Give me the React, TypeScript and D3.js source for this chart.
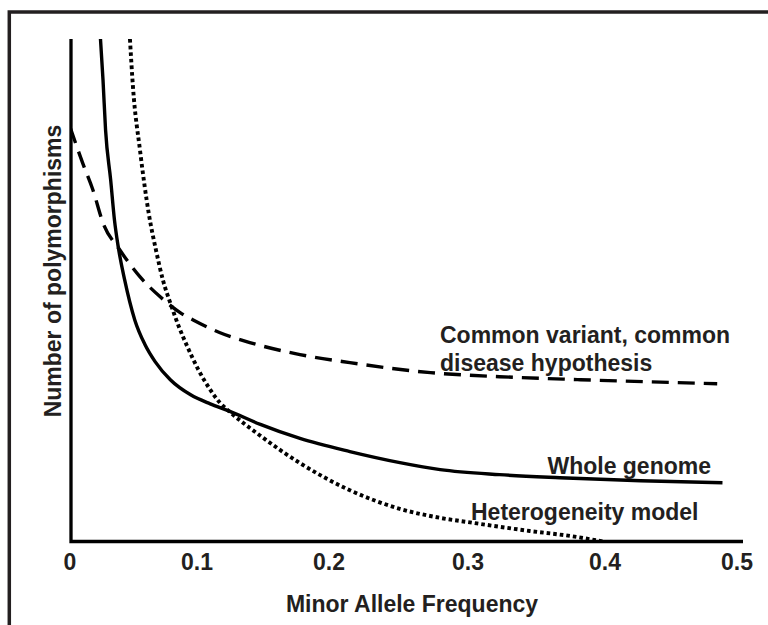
import React from 'react';
import * as d3 from 'd3';

// x axis tick labels
const mafTicks = [0, 0.1, 0.2, 0.3, 0.4, 0.5];

// whole genome (solid)
const wholeMaf = [0.024, 0.026, 0.028, 0.032, 0.035, 0.038, 0.043, 0.051, 0.059, 0.067, 0.079, 0.095, 0.110, 0.124, 0.148, 0.178, 0.215, 0.251, 0.280, 0.323, 0.367, 0.427, 0.489];
const wholeCount = [100, 91.8, 81.9, 72, 64, 58.6, 52.1, 44.1, 39.2, 35.8, 32.2, 29.2, 27.4, 26, 23.3, 20.5, 17.9, 15.7, 14.3, 13.3, 12.7, 12.1, 11.7];

// common variant, common disease hypothesis (dashed)
const cvcdMaf = [0, 0.010, 0.018, 0.026, 0.039, 0.055, 0.071, 0.087, 0.097, 0.117, 0.140, 0.178, 0.215, 0.273, 0.323, 0.382, 0.485];
const cvcdCount = [82.5, 75.3, 70, 63.4, 58.1, 52.7, 48.7, 45.5, 44.1, 41.6, 39.6, 37.2, 35.6, 33.6, 32.8, 32.2, 31.4];

// heterogeneity model (dotted)
const hetMaf = [0.0472, 0.0496, 0.0551, 0.0622, 0.0677, 0.0732, 0.0795, 0.0858, 0.0929, 0.1008, 0.1098, 0.1174, 0.1235, 0.1477, 0.178, 0.215, 0.251, 0.280, 0.3015, 0.345, 0.3745, 0.3985];
const hetCount = [100, 90.4, 77.9, 65.0, 58.0, 52.0, 47.1, 42.7, 38.5, 34.3, 30.3, 27.6, 26.1, 21.1, 15.6, 10.2, 6.5, 4.7, 3.8, 2.1, 1.1, 0];

const INK = '#231f20';
const FONT = '"Liberation Sans", Arial, Helvetica, sans-serif';

export default function App() {
    const width = 768, height = 625;
    const top = 39, bottom = 541.5, left = 71, axisRight = 743;

    // the original figure's ticks are not quite evenly spaced
    const x = d3.scaleLinear().domain(mafTicks).range([70, 197, 329, 468, 605, 737]);
    const y = d3.scaleLinear().domain([0, 100]).range([bottom, top]);

    const line = d3.line<[number, number]>()
        .x(d => x(d[0]))
        .y(d => y(d[1]))
        .curve(d3.curveMonotoneX);

    const zip = (a: number[], b: number[]) => a.map((v, i) => [v, b[i]] as [number, number]);

    const textStyle = { fontFamily: FONT, fontWeight: 'bold' as const, fill: INK, fontSize: 23 };

    return (
        <svg width={width} height={height}
            style={{ position: 'absolute', left: 0, top: 0, display: 'block', background: '#fff' }}>
            <defs>
                <clipPath id="plot">
                    <rect x={left} y={top} width={width - left} height={bottom - top} />
                </clipPath>
            </defs>

            {/* outer frame, runs off the right and bottom edges */}
            <rect x={9.3} y={12} width={800} height={700} fill="none" stroke={INK} strokeWidth={3.5} />

            <g clipPath="url(#plot)" fill="none" stroke="#000" strokeWidth={3.4}>
                <path d={line(zip(wholeMaf, wholeCount)) || ''} />
                <path d={line(zip(cvcdMaf, cvcdCount)) || ''} strokeDasharray="17 9" />
                <path d={line(zip(hetMaf, hetCount)) || ''} strokeDasharray="3.6 3" strokeWidth={3.9} />
            </g>

            {/* axes */}
            <path d={`M${left},${top}V${bottom}H${axisRight}`} fill="none" stroke="#000"
                strokeWidth={3.3} strokeLinejoin="miter" />

            {mafTicks.map(t => (
                <text key={t} x={x(t)} y={570} textAnchor="middle" {...textStyle}>
                    {t === 0 ? '0' : t.toFixed(1)}
                </text>
            ))}

            <text x={412} y={612} textAnchor="middle" {...textStyle}>Minor Allele Frequency</text>
            <text transform="translate(61,271) rotate(-90)" textAnchor="middle" {...textStyle}>
                Number of polymorphisms
            </text>

            {/* curve labels */}
            <text x={440} y={343} {...textStyle}>Common variant, common</text>
            <text x={440} y={371} {...textStyle}>disease hypothesis</text>
            <text x={711} y={474} textAnchor="end" {...textStyle}>Whole genome</text>
            <text x={471} y={520} {...textStyle}>Heterogeneity model</text>
        </svg>
    );
}
